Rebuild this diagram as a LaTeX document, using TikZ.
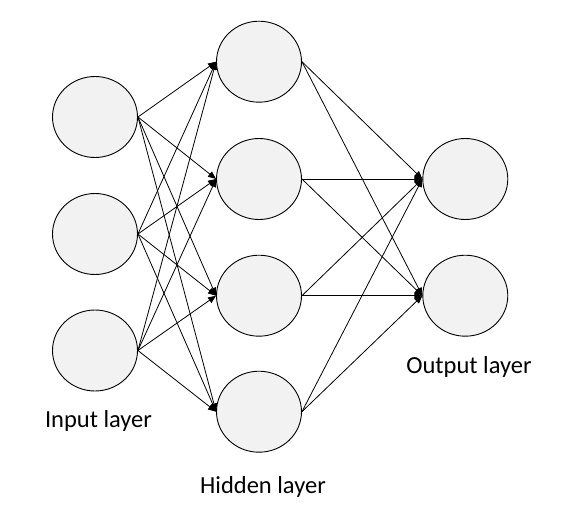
\documentclass[tikz,border=0pt]{standalone}
\usepackage{fontspec}
\setmainfont{Carlito}
\usetikzlibrary{shapes.geometric,arrows.meta}
\definecolor{nodefill}{HTML}{F2F2F2}
\begin{document}
\begin{tikzpicture}[x=1pt,y=-1pt,
  neuron/.style={ellipse,draw=black,line width=0.9pt,fill=nodefill,minimum width=85pt,minimum height=81pt,inner sep=0pt},
  conn/.style={line width=0.8pt,-{Triangle[length=8pt,width=6.5pt]}},
  lbl/.style={anchor=base,font=\fontsize{24.5}{28}\selectfont,inner sep=0pt}]
\useasboundingbox (0,0) rectangle (568,527);
\node[neuron] (i1) at (95,117) {};
\node[neuron] (i2) at (95,234) {};
\node[neuron] (i3) at (95,350.5) {};
\node[neuron] (h1) at (259,61.7) {};
\node[neuron] (h2) at (259,179) {};
\node[neuron] (h3) at (259,295.7) {};
\node[neuron] (h4) at (259,411.7) {};
\node[neuron] (o1) at (465.3,179) {};
\node[neuron] (o2) at (465.3,295.7) {};
\foreach \s in {i1,i2,i3}{
  \foreach \t in {h1,h2,h3,h4}{
    \draw[conn] (\s.east) -- (\t.west);
  }
}
\foreach \s in {h1,h2,h3,h4}{
  \foreach \t in {o1,o2}{
    \draw[conn] (\s.east) -- (\t.west);
  }
}
\node[lbl] (li) at (98.5,427) {Input layer};
\node[lbl] (lh) at (263,493) {Hidden layer};
\node[lbl] (lo) at (469,373) {Output layer};
\end{tikzpicture}
\end{document}
